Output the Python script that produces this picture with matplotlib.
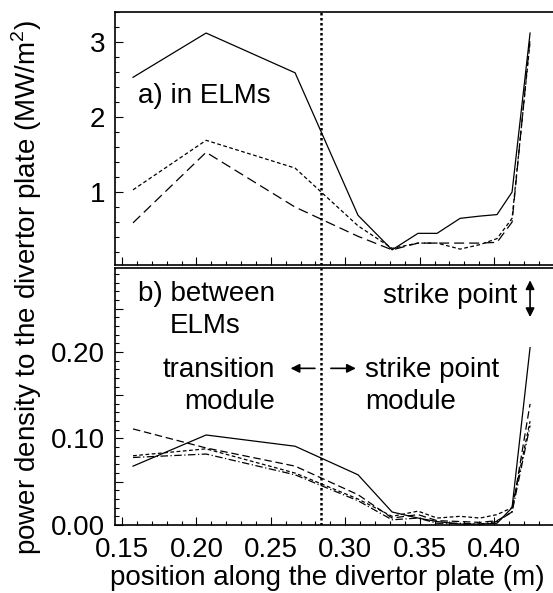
import numpy as np
import matplotlib
matplotlib.use('Agg')
import matplotlib.pyplot as plt
from matplotlib.ticker import MultipleLocator, FuncFormatter

plt.rcParams['font.family'] = ['Liberation Sans', 'DejaVu Sans']
plt.rcParams['mathtext.fontset'] = 'custom'
plt.rcParams['mathtext.rm'] = 'Liberation Sans'

# probe positions along the plate (m)
pos = [0.1574, 0.2065, 0.2663, 0.3086, 0.3315, 0.3489, 0.3617,
       0.3772, 0.3906, 0.4020, 0.4121, 0.4242]

# a) in ELMs (MW/m2)
elm_solid = [2.53, 3.12, 2.59, 0.69, 0.23, 0.45, 0.45, 0.65, 0.68, 0.70, 1.00, 3.12]
elm_dot = [1.03, 1.69, 1.32, 0.55, 0.25, 0.32, 0.32, 0.24, 0.30, 0.38, 0.65, 3.00]
elm_dash = [0.59, 1.53, 0.80, 0.41, 0.23, 0.32, 0.32, 0.32, 0.32, 0.33, 0.60, 3.05]

# b) between ELMs (MW/m2)
inter_solid = [0.068, 0.104, 0.091, 0.058, 0.015, 0.008, 0.004, 0.001, 0.001, 0.002, 0.020, 0.205]
inter_dash = [0.111, 0.089, 0.068, 0.035, 0.008, 0.012, 0.005, 0.004, 0.003, 0.005, 0.015, 0.140]
inter_dot = [0.080, 0.088, 0.060, 0.030, 0.010, 0.016, 0.008, 0.010, 0.008, 0.012, 0.020, 0.120]
inter_dashdot = [0.078, 0.082, 0.058, 0.028, 0.006, 0.008, 0.002, 0.002, 0.001, 0.004, 0.015, 0.115]

module_edge = 0.284

fig = plt.figure(figsize=(5.53, 5.93), dpi=100)
ax1 = fig.add_axes([0.208, 0.553, 0.8065, 0.4267])
ax2 = fig.add_axes([0.208, 0.1147, 0.8065, 0.4334])

lw = 0.9
ax1.plot(pos, elm_solid, color='black', lw=lw, ls='-')
ax1.plot(pos, elm_dot, color='black', lw=lw, ls=(0, (3, 2)))
ax1.plot(pos, elm_dash, color='black', lw=lw, ls=(0, (8, 4)))

ax2.plot(pos, inter_solid, color='black', lw=lw, ls='-')
ax2.plot(pos, inter_dash, color='black', lw=lw, ls=(0, (6, 3)))
ax2.plot(pos, inter_dot, color='black', lw=lw, ls=(0, (3, 2)))
ax2.plot(pos, inter_dashdot, color='black', lw=lw, ls=(0, (6, 2, 1, 2)))

for ax in (ax1, ax2):
    ax.axvline(module_edge, color='black', lw=1.8, ls=(0, (1, 1)))
    ax.set_xlim(0.1453, 0.445)
    ax.xaxis.set_major_locator(MultipleLocator(0.05))
    ax.xaxis.set_minor_locator(MultipleLocator(0.01))
    ax.tick_params(which='both', direction='in', labelsize=20, width=0.8)
    ax.tick_params(which='major', length=6)
    ax.tick_params(which='minor', length=3)
    ax.tick_params(axis='y', pad=7)
    ax.tick_params(axis='x', pad=9)
    for s in ax.spines.values():
        s.set_linewidth(1.2)

ax1.set_ylim(0.027, 3.4)
ax1.yaxis.set_major_locator(MultipleLocator(1))
ax1.yaxis.set_minor_locator(MultipleLocator(0.2))
ax1.tick_params(axis='x', labelbottom=False)

ax2.set_ylim(0, 0.297)
ax2.yaxis.set_major_locator(MultipleLocator(0.05))
ax2.yaxis.set_minor_locator(MultipleLocator(0.01))
ax2.yaxis.set_major_formatter(FuncFormatter(
    lambda v, p: f'{v:.2f}' if round(v * 100) % 10 == 0 else ''))
ax2.set_xticks([0.15, 0.20, 0.25, 0.30, 0.35, 0.40])
ax2.set_xticklabels(['0.15', '0.20', '0.25', '0.30', '0.35', '0.40'])

fig.text(0.591, 0.026, 'position along the divertor plate (m)',
         ha='center', va='center', fontsize=20)
fig.text(0.048, 0.516, 'power density to the divertor plate (MW/m$^2$)',
         rotation=90, ha='center', va='center', fontsize=20)

fs = 20
ax1.text(0.161, 2.19, 'a) in ELMs', fontsize=fs, ha='left', va='baseline')
ax2.text(0.161, 0.259, 'b) between', fontsize=fs, ha='left', va='baseline')
ax2.text(0.1823, 0.222, 'ELMs', fontsize=fs, ha='left', va='baseline')
ax2.text(0.2528, 0.171, 'transition', fontsize=fs, ha='right', va='baseline')
ax2.text(0.2528, 0.134, 'module', fontsize=fs, ha='right', va='baseline')
ax2.text(0.3133, 0.171, 'strike point', fontsize=fs, ha='left', va='baseline')
ax2.text(0.3133, 0.134, 'module', fontsize=fs, ha='left', va='baseline')
ax2.text(0.3254, 0.2566, 'strike point', fontsize=fs, ha='left', va='baseline')

arrow = dict(arrowstyle='-|>', color='black', lw=1.2, mutation_scale=13)
ax2.annotate('', xy=(0.2614, 0.181), xytext=(0.2815, 0.181), arrowprops=arrow)
ax2.annotate('', xy=(0.3090, 0.181), xytext=(0.2885, 0.181), arrowprops=arrow)
ax2.annotate('', xy=(0.4242, 0.286), xytext=(0.4242, 0.237),
             arrowprops=dict(arrowstyle='<|-|>', color='black', lw=1.2, mutation_scale=13))

fig.savefig('out.png', dpi=100)
